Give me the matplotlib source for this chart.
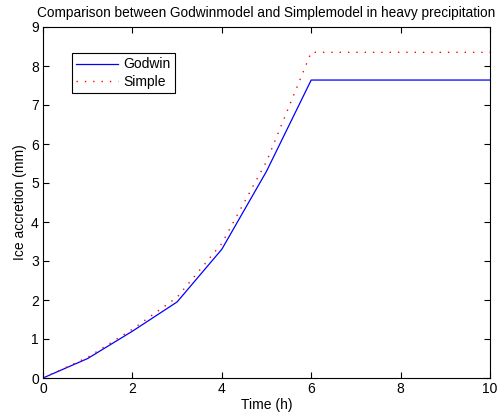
import matplotlib
matplotlib.use('Agg')
import matplotlib.pyplot as plt

plt.rcParams['font.family'] = ['Liberation Sans', 'DejaVu Sans']

# Data
time_h = [0, 1, 2, 3, 4, 5, 6, 7, 8, 9, 10]
godwin = [0, 0.50, 1.20, 1.95, 3.30, 5.30, 7.64, 7.64, 7.64, 7.64, 7.64]
simple = [0, 0.53, 1.25, 2.07, 3.45, 5.55, 8.35, 8.35, 8.35, 8.35, 8.35]

fig = plt.figure(figsize=(4.98, 4.2), dpi=100)
ax = fig.add_axes([43 / 498, 42 / 420, 447 / 498, 351 / 420])

ax.plot(time_h, godwin, 'b-', linewidth=0.9, label='Godwin')
ax.plot(time_h, simple, color='r', linestyle=(0, (1, 5)), linewidth=1.0, label='Simple')

ax.set_xlim(0, 10)
ax.set_ylim(0, 9)
ax.set_xticks(range(0, 11, 2))
ax.set_yticks(range(0, 10))
ax.tick_params(direction='in', top=True, right=True, labelsize=10, length=4, width=0.8, pad=3)
for s in ax.spines.values():
    s.set_linewidth(0.8)

ax.set_xlabel('Time (h)', fontsize=10, labelpad=1)
ax.set_ylabel('Ice accretion (mm)', fontsize=10, labelpad=3)
ax.set_title('Comparison between Godwinmodel and Simplemodel in heavy precipitation',
             fontsize=9.85, pad=7)

leg = ax.legend(loc='upper left', bbox_to_anchor=(0.05, 0.945), fontsize=10,
                fancybox=False, framealpha=1, edgecolor='black',
                handlelength=3.0, handletextpad=0.4, borderpad=0.3, labelspacing=0.25)
leg.get_frame().set_linewidth(0.8)

plt.savefig('out.png', dpi=100)
